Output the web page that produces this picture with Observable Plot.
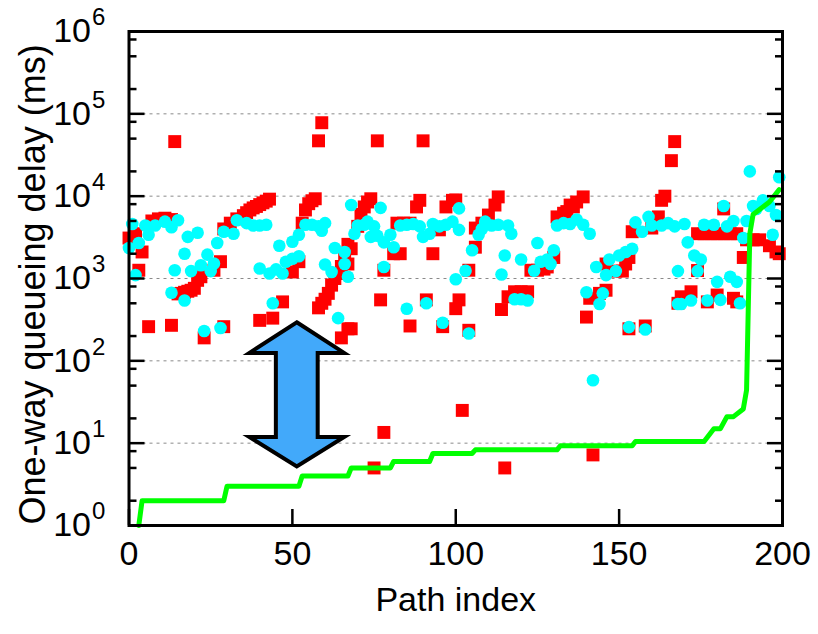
<!DOCTYPE html>
<html><head><meta charset="utf-8">
<script src="https://cdn.jsdelivr.net/npm/d3@7"></script>
<script src="https://cdn.jsdelivr.net/npm/@observablehq/plot@0.6"></script>
<style>html,body{margin:0;padding:0;background:#fff;} #chart svg{display:block;}</style>
</head><body><div id="chart"></div>
<script>
// ---- data ----
const xTicks = [0, 50, 100, 150, 200];
const yMajor = [1, 10, 100, 1e3, 1e4, 1e5, 1e6];
const yMinor = [2,5,8,20,50,80,200,500,800,2000,5000,8000,20000,50000,80000,200000,500000,800000];
const yGrid = [10, 100, 1e3, 1e4, 1e5];

// red squares: [path index, delay ms]
const redPoints = [
[0,3100],[2,3500],[3,1260],[4,2100],[6,260],[7,5000],[9,5300],[11,5400],[13,5200],[13,270],[14,46000],
[15,650],[16,660],[17,680],[18,700],[19,720],[20,760],[21,950],[22,1050],[23,190],[26,1260],[28,1600],[29,4000],[29,260],[31,4700],
[33,5300],[35,5800],[36,6300],[37,6800],[38,7200],[39,7500],[40,7900],[41,8300],[42,8700],[43,9200],
[40,310],[44,330],[47,520],[50,1200],[52,1600],[53,4700],[54,6800],[55,8100],[56,8800],[57,9300],
[58,47000],[59,78000],[58,440],[59,500],[60,560],[61,660],[62,830],[63,1000],[64,1150],[65,1400],[66,2000],[67,2600],[65,190],[67,245],
[67,1500],[68,2300],[70,4300],[71,6000],[72,7400],[73,8500],[74,9300],[68,245],[75,5],[76,47000],[77,550],[78,13.5],[78,1260],[81,2000],[83,2000],
[82,4700],[84,4700],[86,4700],[88,7400],[89,8900],[86,265],[90,47000],[91,550],[93,2000],[95,3900],[96,260],[97,7400],[99,8900],[100,430],[101,550],
[100,9000],[102,25],[104,1260],[104,235],[106,2400],[106,4100],[108,4700],[110,5900],[112,7800],[113,9800],[114,420],[115,5],[116,600],[118,690],[120,690],[122,690],
[123,1260],[125,1260],[127,1300],[128,1380],[130,1800],[131,5600],[133,6200],[134,6500],[135,7800],[136,7400],[137,8500],[139,9800],
[140,340],[141,575],[142,7.2],[144,660],[146,720],[146,1500],[149,1230],[151,1230],[152,1500],[153,1800],[153,245],[154,3700],[158,265],[160,4100],[162,5600],[163,8900],[164,10000],[166,27000],[167,46000],[168,500],
[169,600],[172,690],[174,1250],[174,3500],[176,3500],[177,520],[178,3500],[180,3500],[180,630],[182,3500],[182,7000],[184,3500],[185,575],[186,3500],[186,520],[188,1800],[189,2950],[191,2950],[193,2950],[196,2500],[198,2100],[199,2000]
];

// cyan circles: [path index, delay ms]
const cyanPoints = [
[0,2350],[1,4600],[2,1100],[3,2700],[5,4400],[6,3400],[8,4400],[11,4900],[13,4200],[13,670],[14,1260],[15,5100],[17,540],[17,2000],[18,3200],[19,1230],[21,3600],[22,1450],[23,230],[24,1950],[25,1230],[26,1520],[27,2700],[28,250],[29,3700],[32,3500],[33,5100],
[36,4700],[38,4400],[40,4400],[42,4500],[40,1320],[43,1150],[44,500],[45,1290],[46,2500],[47,1150],[48,1600],[50,1740],[50,2800],[52,1860],[52,3400],[54,4500],[56,4500],[58,4300],[59,3800],[60,4700],[60,1480],[62,1200],[63,2350],[64,330],[66,2100],[66,1500],[67,1050],[68,7800],
[69,3500],[70,4400],[72,4500],[73,4900],[74,3200],[75,4300],[76,3300],[77,7200],[78,2750],[78,1380],[80,3400],[81,2400],[83,4400],[85,4500],[85,430],[87,4600],[89,4300],[90,3200],[91,500],[92,3500],[93,4600],[95,4300],[96,290],[97,4500],[99,4900],[100,980],[101,7100],
[101,3900],[103,1240],[104,215],[105,2200],[107,3400],[108,4000],[109,4900],[111,4400],[113,4500],[114,1120],[115,1900],[116,4400],[117,3500],[118,560],[120,560],[120,1700],[122,540],[124,1240],[125,2700],[126,1600],[128,1700],[129,1500],[130,2200],[131,4400],[133,4700],[135,4600],
[137,5200],[139,4500],[140,680],[141,3500],[142,58],[143,1380],[144,490],[145,660],[146,1100],[147,1700],[149,1230],[150,1900],[152,2100],[153,257],[154,2300],[155,4800],[157,3700],[158,240],[159,5600],[160,4400],[163,4400],[165,4700],[167,4300],[168,1230],[168,490],
[169,490],[170,4600],[171,2750],[172,540],[173,1900],[174,1230],[175,1700],[176,4500],[177,540],[179,4500],[180,910],[181,550],[182,7600],[183,4300],[184,1050],[185,5000],[186,910],[187,500],[188,3100],[189,5000],[190,20000],[191,7600],[192,7000],[194,8900],[196,7600],[197,3400],[198,5900],[199,17000]
];

// green line vertices: path index / delay ms
const greenX = [3, 4, 29, 30, 52, 53, 67, 68, 80, 81, 92, 93, 105, 106, 131, 132, 154, 155, 176, 179, 181, 183, 185, 188, 189, 190, 191, 196, 199];
const greenY = [1, 2, 2, 3, 3, 4, 4, 5, 5, 6, 6, 7.5, 7.5, 8.3, 8.3, 9.3, 9.3, 10.5, 10.5, 15, 15, 21, 21, 26, 44, 3500, 6000, 8500, 12000];

// double arrow annotation (data coordinates)
const arrow = {x: 51.5, top: 290, headTop: 123, headBottom: 11.7, bottom: 5.15, headHalf: 14.5, shaftHalf: 6.4};

const greenData = greenX.map((x, i) => ({x, y: greenY[i]}));

function arrowMark(index, scales) {
  const X = scales.x, Y = scales.y, a = arrow;
  const pts = [
    [a.x, a.top], [a.x + a.headHalf, a.headTop], [a.x + a.shaftHalf, a.headTop],
    [a.x + a.shaftHalf, a.headBottom], [a.x + a.headHalf, a.headBottom], [a.x, a.bottom],
    [a.x - a.headHalf, a.headBottom], [a.x - a.shaftHalf, a.headBottom],
    [a.x - a.shaftHalf, a.headTop], [a.x - a.headHalf, a.headTop]
  ].map(([u, v]) => [X(u), Y(v)]);
  return d3.create("svg:path")
    .attr("d", "M" + pts.map(p => p.join(",")).join("L") + "Z")
    .attr("fill", "#42a9fa").attr("stroke", "#000")
    .attr("stroke-width", 4).attr("stroke-linejoin", "miter")
    .node();
}

const FS = 34;
const chart = Plot.plot({
  width: 818, height: 634,
  marginLeft: 128.5, marginRight: 36, marginTop: 31, marginBottom: 109,
  x: {domain: [0, 200]},
  y: {type: "log", domain: [1, 1e6]},
  style: {fontFamily: "'Liberation Sans', Arial, sans-serif", background: "white", color: "black"},
  marks: [
    Plot.ruleY(yGrid, {stroke: "#8a8a8a", strokeWidth: 1, strokeDasharray: "3,4"}),
    Plot.dot(redPoints, {x: d => d[0], y: d => d[1], symbol: "square", r: 7.3, fill: "#ff0000", stroke: "none"}),
    Plot.dot(cyanPoints, {x: d => d[0], y: d => d[1], symbol: "circle", r: 6.3, fill: "#00ffff", stroke: "none"}),
    Plot.line(greenData, {x: "x", y: "y", stroke: "#00ff00", strokeWidth: 5, strokeLinejoin: "round"}),
    arrowMark,
    Plot.frame({stroke: "black", strokeWidth: 3}),
    Plot.axisY({anchor: "left", ticks: yMajor, tickSize: -16, strokeWidth: 2.5, tickFormat: () => "", label: null}),
    Plot.axisY({anchor: "left", ticks: yMinor, tickSize: -8, strokeWidth: 2.5, tickFormat: () => "", label: null}),
    Plot.axisY({anchor: "right", ticks: yMajor, tickSize: -16, strokeWidth: 2.5, tickFormat: () => "", label: null}),
    Plot.axisY({anchor: "right", ticks: yMinor, tickSize: -8, strokeWidth: 2.5, tickFormat: () => "", label: null}),
    Plot.axisX({anchor: "bottom", ticks: xTicks, tickSize: -16, strokeWidth: 2.5, tickFormat: () => "", label: null}),
    Plot.text(yMajor, {y: d => d, frameAnchor: "left", text: () => "10", textAnchor: "end", lineAnchor: "middle", dx: -38, fontSize: FS, fill: "black"}),
    Plot.text(yMajor, {y: d => d, frameAnchor: "left", text: d => String(Math.round(Math.log10(d))), textAnchor: "start", lineAnchor: "middle", dx: -37, dy: -14, fontSize: 24, fill: "black"}),
    Plot.text(xTicks, {x: d => d, frameAnchor: "bottom", text: d => String(d), lineAnchor: "top", dy: 15, fontSize: FS, fill: "black"}),
    Plot.text(["Path index"], {frameAnchor: "bottom", text: d => d, textAnchor: "middle", lineAnchor: "top", dy: 61, fontSize: FS, fill: "black"}),
    Plot.text(["One-way queueing delay (ms)"], {frameAnchor: "left", text: d => d, rotate: -90, textAnchor: "middle", lineAnchor: "middle", dx: -96, dy: 6, fontSize: 36, fill: "black"})
  ]
});
document.getElementById("chart").append(chart);
</script>
</body></html>
